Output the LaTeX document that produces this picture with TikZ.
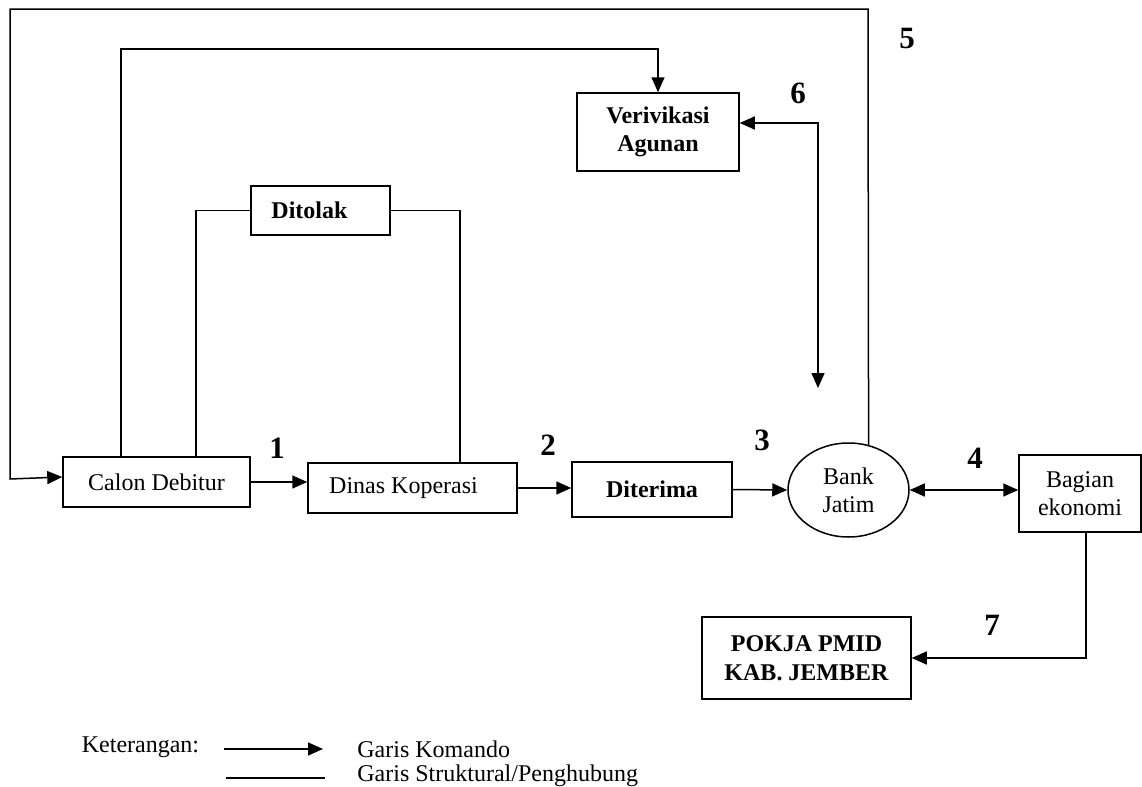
\documentclass[tikz,border=0pt]{standalone}
\usepackage{fontspec}
\setmainfont{Liberation Serif}
\usetikzlibrary{arrows.meta,shapes.geometric}
\begin{document}
\begin{tikzpicture}[x=0.5pt,y=-0.5pt,
  every node/.style={font=\fontsize{12}{14}\selectfont},
  box/.style={draw,line width=0.75pt,inner sep=0pt,align=center},
  num/.style={font=\fontsize{15.5}{17}\selectfont\bfseries,inner sep=0pt},
  link/.style={line width=0.75pt},
  arr/.style={line width=0.75pt,-{Triangle[length=7.5pt,width=6.5pt]}},
  dbl/.style={line width=0.75pt,{Triangle[length=7.5pt,width=6.5pt]}-{Triangle[length=7.5pt,width=6.5pt]}}]
\useasboundingbox (0,0) rectangle (1142,787);
% nodes
\node[box,minimum width=93.5pt,minimum height=25pt] (calon) at (156.5,482) {Calon Debitur};
\node[box,minimum width=104.5pt,minimum height=25pt] (dinas) at (412.5,488) {Dinas Koperasi\hspace*{9pt}};
\node[box,minimum width=80pt,minimum height=27.5pt,font=\fontsize{12}{14}\selectfont\bfseries] (diterima) at (652,489.5) {Diterima};
\node[draw,ellipse,line width=0.75pt,inner sep=0pt,minimum width=60.5pt,minimum height=47pt,align=center] (bank) at (848.5,490) {Bank\\Jatim};
\node[box,minimum width=61pt,minimum height=38.5pt] (bagian) at (1080,493.5) {Bagian\\ekonomi};
\node[box,minimum width=104.5pt,minimum height=41pt,font=\fontsize{12}{14.5}\selectfont\bfseries] (pokja) at (806.5,658) {POKJA PMID\\KAB. JEMBER};
\node[box,minimum width=81pt,minimum height=39pt,font=\fontsize{12}{14}\selectfont\bfseries] (verif) at (658,132) {Verivikasi\\Agunan};
\node[box,minimum width=69.5pt,minimum height=24.5pt,font=\fontsize{12}{14}\selectfont\bfseries] (ditolak) at (320.5,210.5) {Ditolak\hspace*{11pt}};
% numbers
\node[num] (n1) at (277,448) {1};
\node[num] (n2) at (548,445) {2};
\node[num] (n3) at (762,440) {3};
\node[num] (n4) at (975,458) {4};
\node[num] (n5) at (907,39) {5};
\node[num] (n6) at (798,93) {6};
\node[num] (n7) at (992,625) {7};
% connectors
\draw[arr] (bank.66.3) -- (868,9) -- (10,9) -- (10,479) -- ([yshift=2.5pt]calon.west);
\draw[arr] (calon.north -| 121,0) -- (121,49) -- (658,49) -- (verif.north);
\draw[link] (calon.north -| 196,0) |- (ditolak.west);
\draw[link] (ditolak.east) -| (dinas.north -| 460,0);
\draw[arr] (calon.east) -- (calon.east -| dinas.west);
\draw[arr] (dinas.east) -- (dinas.east -| diterima.west);
\draw[arr] (diterima.east) -- (bank.west);
\draw[dbl] (bank.east) -- (bank.east -| bagian.west);
\coordinate (v6end) at (818,388);
\draw[dbl] ([yshift=4.5pt]verif.east) -| (v6end);
\draw[arr] (bagian.south -| 1086,0) |- (pokja.east);
% legend
\node[anchor=center] (ket) at (140.5,747) {Keterangan:};
\coordinate (la) at (224,749);
\coordinate (lb) at (323,749);
\coordinate (lc) at (226,778);
\coordinate (ld) at (325,778);
\draw[arr] (la) -- (lb);
\draw[link] (lc) -- (ld);
\node[anchor=west,inner sep=0pt] (g1) at (357,749) {Garis Komando};
\node[anchor=west,inner sep=0pt] (g2) at (357,776) {Garis Struktural/Penghubung};
\end{tikzpicture}
\end{document}
